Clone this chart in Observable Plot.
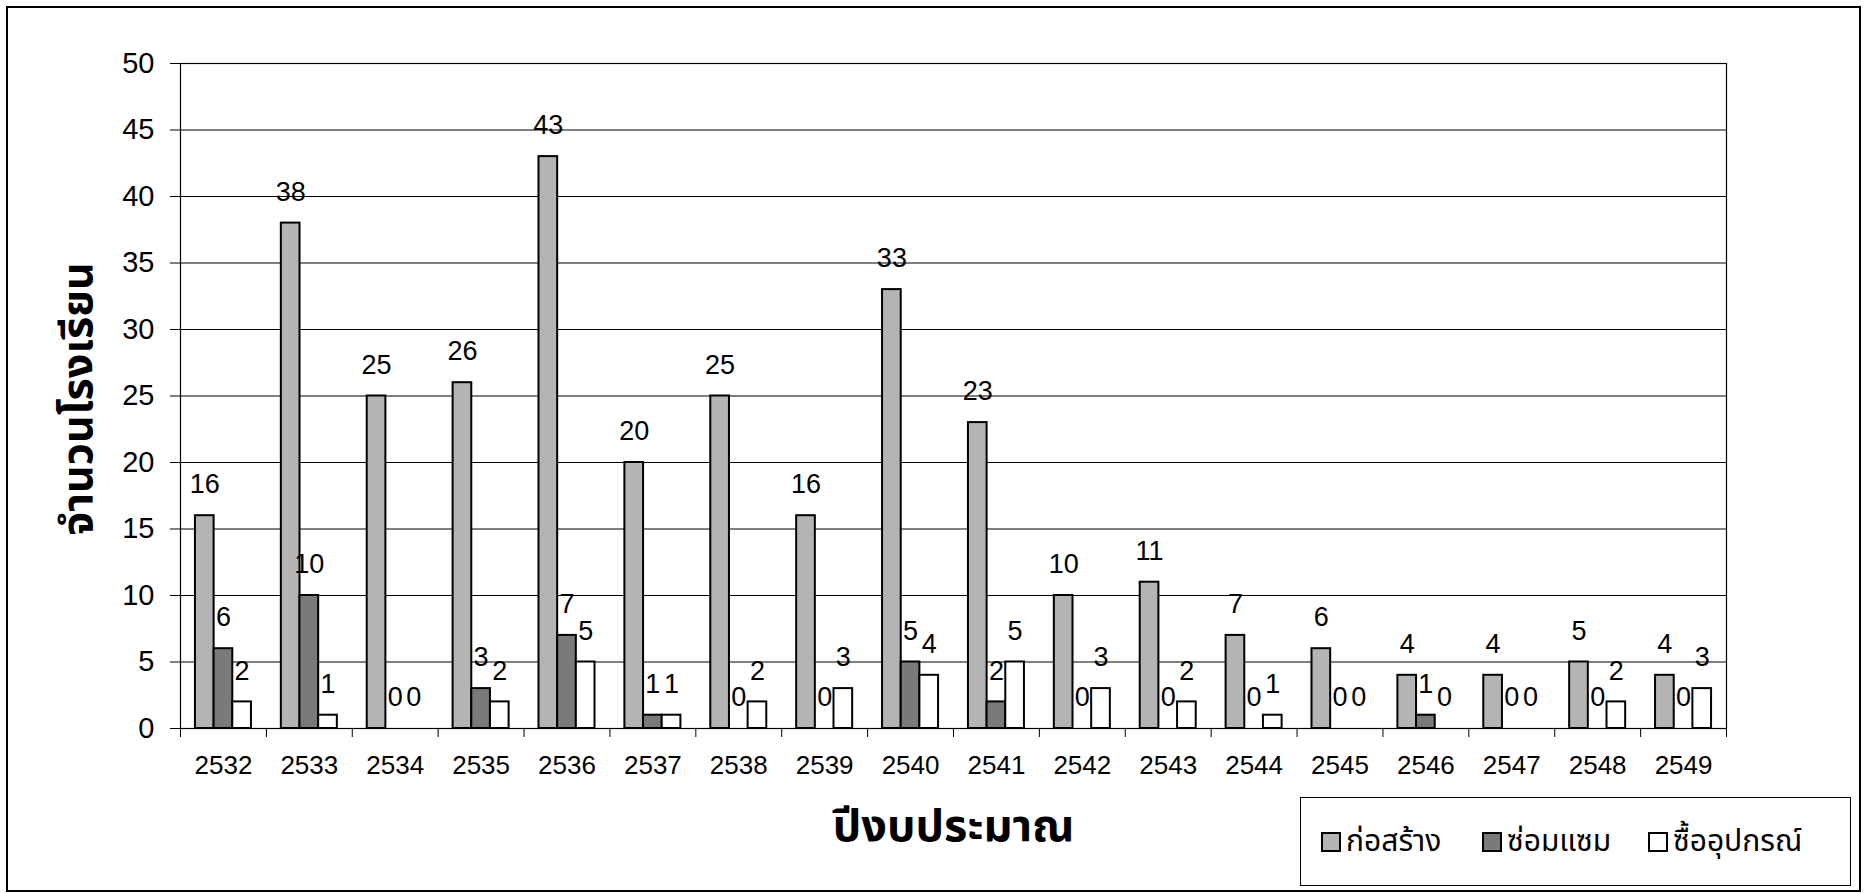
<!DOCTYPE html>
<html>
<head>
<meta charset="utf-8">
<script src="https://cdn.jsdelivr.net/npm/d3@7"></script>
<script src="https://cdn.jsdelivr.net/npm/@observablehq/plot@0.6"></script>
<style>
  html, body { margin: 0; padding: 0; background: #fff; }
  #page { position: relative; width: 1865px; height: 893px; overflow: hidden; background: #fff; }
  #border { position: absolute; left: 6px; top: 6px; width: 1851px; height: 882px; border: 2px solid #000; box-sizing: content-box; pointer-events: none; }
  #chart { position: absolute; left: 0; top: 0; }
  #legend { position: absolute; left: 1300px; top: 797px; width: 549px; height: 87px; border: 1.5px solid #000; background: #fff;
            font-family: "Noto Sans Thai", Tahoma, "DejaVu Sans", "Liberation Sans", sans-serif; font-size: 30px; color: #000; }
  .item { position: absolute; top: 0; height: 87px; display: flex; align-items: center; white-space: nowrap; }
  .sw { width: 16px; height: 16px; border: 2px solid #000; margin-right: 5px; }
</style>
</head>
<body>
<div id="page">
  <div id="chart"></div>
  <div id="legend"></div>
  <div id="border"></div>
</div>
<script>
// ---- data ----
const years = ["2532","2533","2534","2535","2536","2537","2538","2539","2540","2541","2542","2543","2544","2545","2546","2547","2548","2549"];
const seriesNames = ["ก่อสร้าง", "ซ่อมแซม", "ซื้ออุปกรณ์"];
const construction = [16, 38, 25, 26, 43, 20, 25, 16, 33, 23, 10, 11, 7, 6, 4, 4, 5, 4];
const repair       = [6, 10, 0, 3, 7, 1, 0, 0, 5, 2, 0, 0, 0, 0, 1, 0, 0, 0];
const equipment    = [2, 1, 0, 2, 5, 1, 2, 3, 4, 5, 3, 2, 1, 0, 0, 0, 2, 3];
const yTicks = [0, 5, 10, 15, 20, 25, 30, 35, 40, 45, 50];
const yTitle = "จำนวนโรงเรียน";
const xTitle = "ปีงบประมาณ";

// ---- layout / style ----
const W = 1865, H = 893;
const mL = 180, mR = 139, mT = 63, mB = 165;
const bw = (W - mL - mR) / years.length;
const groupW = 56, barW = groupW / 3;
const off = (bw - groupW) / 2;
const fills = ["#b4b4b4", "#7a7a7a", "#ffffff"];
const thai = "'Noto Sans Thai', Tahoma, 'DejaVu Sans', 'Liberation Sans', sans-serif";

const seriesValues = [construction, repair, equipment];
const rows = seriesValues.map((vals, s) => years.map((year, i) => ({year, s, series: seriesNames[s], value: vals[i]})));

const barMarks = rows.map((r, s) => Plot.barY(r.filter(d => d.value > 0), {
  x: "year", y: "value",
  fill: fills[s], stroke: "#000", strokeWidth: 2,
  insetLeft: off + s * barW, insetRight: bw - off - (s + 1) * barW
}));
const labelMarks = rows.map((r, s) => Plot.text(r, {
  x: "year", y: "value", text: d => String(d.value),
  dx: (s - 1) * barW, dy: -31, fontSize: 27, lineAnchor: "middle", fill: "#000"
}));

const chart = Plot.plot({
  width: W, height: H,
  marginLeft: mL, marginRight: mR, marginTop: mT, marginBottom: mB,
  x: {domain: years, padding: 0, round: false},
  y: {domain: [0, 50]},
  style: {fontFamily: "'Liberation Sans', Arial, sans-serif", background: "transparent", color: "#000"},
  marks: [
    Plot.ruleY(yTicks, {stroke: "#000", strokeWidth: 1}),
    Plot.frame({stroke: "#000", strokeWidth: 1.2}),
    Plot.axisY({ticks: yTicks, tickSize: 10, tickPadding: 16, fontSize: 29, label: null, stroke: "#000"}),
    ...barMarks,
    ...labelMarks,
    Plot.ruleX(years, {x: d => d, dx: -bw / 2, y1: 0, y2: 0, insetBottom: -9, stroke: "#000"}),
    Plot.ruleX(years.slice(-1), {x: d => d, dx: bw / 2, y1: 0, y2: 0, insetBottom: -9, stroke: "#000"}),
    Plot.axisX({tickSize: 0, tickPadding: 27, fontSize: 26, label: null}),
    Plot.text([yTitle], {frameAnchor: "left", textAnchor: "middle", lineAnchor: "middle", dx: -102, dy: 3, rotate: -90, fontSize: 43, fontWeight: "bold", fontFamily: thai}),
    Plot.text([xTitle], {frameAnchor: "bottom", textAnchor: "middle", dy: 112, fontSize: 45, fontWeight: "bold", fontFamily: thai})
  ]
});
document.getElementById("chart").appendChild(chart);

// ---- legend ----
const legend = document.getElementById("legend");
const itemLeft = [20, 181, 347];
seriesNames.forEach((name, s) => {
  const it = document.createElement("div");
  it.className = "item";
  it.style.left = itemLeft[s] + "px";
  const sw = document.createElement("span");
  sw.className = "sw";
  sw.style.background = fills[s];
  const tx = document.createElement("span");
  tx.textContent = name;
  it.appendChild(sw); it.appendChild(tx);
  legend.appendChild(it);
});
</script>
</body>
</html>
